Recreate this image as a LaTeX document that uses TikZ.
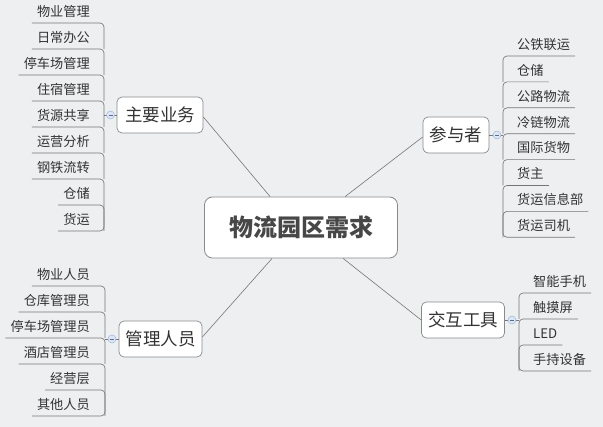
\documentclass[tikz,border=0pt]{standalone}
\usepackage{fontspec}
\setmainfont{Noto Sans CJK SC}
\usetikzlibrary{calc}
\definecolor{bg}{HTML}{EDEFF1}
\definecolor{ln}{HTML}{767676}
\definecolor{bd}{HTML}{8A8A8A}
\definecolor{tx}{HTML}{333333}
\definecolor{cfill}{HTML}{DCE7F6}
\definecolor{cdraw}{HTML}{9DB6DE}
\begin{document}
\begin{tikzpicture}[x=1pt,y=-1pt,
  leaf/.style={inner xsep=5pt,inner ysep=0pt,minimum height=23pt,font=\fontsize{13.2}{14}\selectfont,text=tx},
  branch/.style={draw=bd,fill=white,rounded corners=5pt,line width=0.7pt,minimum height=36pt,font=\fontsize{17.5}{18}\selectfont,text=tx,inner sep=0pt},
  central/.style={draw=bd,fill=white,rounded corners=8pt,line width=0.8pt,minimum width=193pt,minimum height=61pt,font=\fontsize{24}{26}\selectfont\bfseries,text=black!72},
  conn/.style={draw=ln,line width=0.6pt},
  brk/.style={draw=ln,line width=0.65pt,rounded corners=4pt},
  knob/.style={circle,draw=cdraw,fill=cfill,inner sep=0pt,minimum size=8pt,line width=0.5pt}]
\useasboundingbox (0,0) rectangle (603,427);
\fill[bg] (0,0) rectangle (603,427);

% central and branch nodes
\node[central] (c) at (301,227.5) {物流园区需求};
\node[branch,minimum width=86pt] (b1) at (160,115) {主要业务};
\node[branch,minimum width=66pt] (b2) at (456,135) {参与者};
\node[branch,minimum width=83pt] (b3) at (463,320) {交互工具};
\node[branch,minimum width=83pt] (b4) at (160.5,339) {管理人员};

% main connectors
\draw[conn] ($(b1.east)+(0,2)$) -- ($(c.north west)+(66,0)$);
\draw[conn] ($(b2.west)+(0,2)$) -- ($(c.north west)+(141,0)$);
\draw[conn] ($(b4.east)+(0,-2)$) -- ($(c.south west)+(68,0)$);
\draw[conn] ($(b3.west)+(0,0)$) -- ($(c.south west)+(139,0)$);

% spines
\coordinate (s1) at (104,115);
\coordinate (s2) at (503,135);
\coordinate (s3) at (519,320);
\coordinate (s4) at (105,339);

% leaves of 主要业务
\foreach \t [count=\i] in {物业管理,日常办公,停车场管理,住宿管理,货源共享,运营分析,钢铁流转,仓储,货运}{
  \pgfmathsetmacro\yy{23+26*(\i-1)}
  \node[leaf,anchor=south east] (a\i) at (95,\yy) {\t};
}
\foreach \i/\j in {1/2,2/3,3/4,4/5,5/6,6/7,7/8,8/9}{
  \draw[brk] (a\i.south west) -- (a\i.south west -| s1) -- (a\j.south west -| s1);
}
\draw[brk] (a9.south west) -- (a9.south west -| s1) -- (a8.south west -| s1);

% leaves of 管理人员
\foreach \t [count=\i] in {物业人员,仓库管理员,停车场管理员,酒店管理员,经营层,其他人员}{
  \pgfmathsetmacro\yy{286+26*(\i-1)}
  \node[leaf,anchor=south east] (m\i) at (95,\yy) {\t};
}
\foreach \i/\j in {1/2,2/3,3/4,4/5,5/6}{
  \draw[brk] (m\i.south west) -- (m\i.south west -| s4) -- (m\j.south west -| s4);
}
\draw[brk] (m6.south west) -- (m6.south west -| s4) -- (m5.south west -| s4);

% leaves of 参与者
\foreach \t [count=\i] in {公铁联运,仓储,公路物流,冷链物流,国际货物,货主,货运信息部,货运司机}{
  \pgfmathsetmacro\yy{56+25.9*(\i-1)}
  \node[leaf,anchor=south west] (p\i) at (512,\yy) {\t};
}
\foreach \i/\j in {1/2,2/3,3/4,4/5,5/6,6/7,7/8}{
  \draw[brk] (p\i.south east) -- (p\i.south east -| s2) -- (p\j.south east -| s2);
}
\draw[brk] (p8.south east) -- (p8.south east -| s2) -- (p7.south east -| s2);

% leaves of 交互工具
\foreach \t [count=\i] in {智能手机,触摸屏,LED,手持设备}{
  \pgfmathsetmacro\yy{293+26*(\i-1)}
  \node[leaf,anchor=south west] (t\i) at (528,\yy) {\t};
}
\foreach \i/\j in {1/2,2/3,3/4}{
  \draw[brk] (t\i.south east) -- (t\i.south east -| s3) -- (t\j.south east -| s3);
}
\draw[brk] (t4.south east) -- (t4.south east -| s3) -- (t3.south east -| s3);

% knobs
\draw[conn] (b1.west) -- (s1);
\draw[conn] (b2.east) -- (s2);
\draw[conn] (b3.east) -- (s3);
\draw[conn] (b4.west) -- (s4);
\node[knob] (k1) at (110.5,115) {};
\node[knob] (k2) at (497,135) {};
\node[knob] (k3) at (512,320) {};
\node[knob] (k4) at (112,339) {};
\foreach \k in {k1,k2,k3,k4}{
  \draw[draw=cdraw!60!black,line width=0.5pt] ($(\k.center)+(-2,0)$) -- ($(\k.center)+(2,0)$);
}
\end{tikzpicture}
\end{document}
